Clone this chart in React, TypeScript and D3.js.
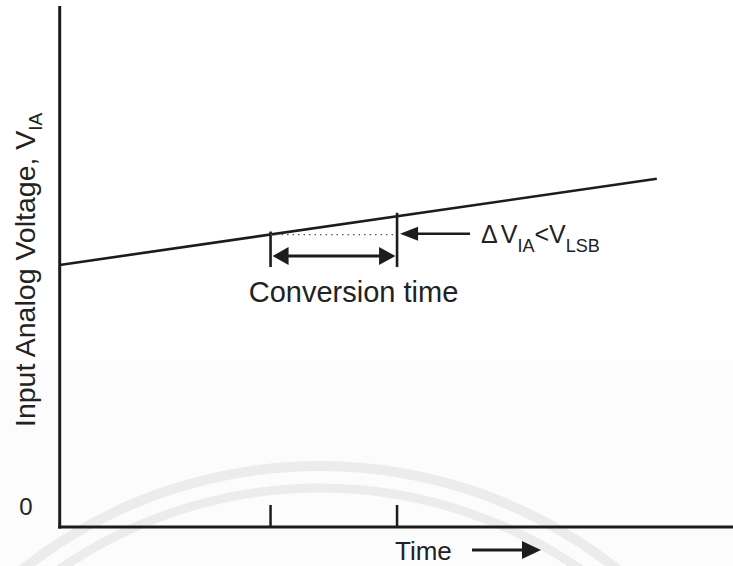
import React from "react";
import * as d3 from "d3";

// Input voltage ramp (time in arbitrary units, voltage in arbitrary units)
const rampTime = [0, 14.16];
const rampVoltage = [5.02, 6.67];

// Conversion window on the time axis
const conversionStart = 5;
const conversionEnd = 8;
const tickTimes = [conversionStart, conversionEnd];

// Marker bars at the start and end of the conversion
const markerTop = [5.66, 6.02];
const markerBottom = 4.98;

// Voltage of the ramp when the conversion begins (dotted reference level)
const startLevel = 5.6;
// Level of the double-headed conversion-time arrow
const spanLevel = 5.19;

const yAxisLabel = "Input Analog Voltage, V";
const yAxisSub = "IA";
const xAxisLabel = "Time";
const zeroLabel = "0";
const spanLabel = "Conversion time";

const W = 733;
const H = 566;
const INK = "#1c1c1c";
const FONT = "'Liberation Sans', Arial, Helvetica, sans-serif";

export default function App() {
  const x = d3.scaleLinear().domain([0, 16]).range([59.7, 734.4]);
  const y = d3.scaleLinear().domain([0, 10]).range([527, 5]);

  const ramp = d3
    .line<number>()
    .x((_, i) => x(rampTime[i]))
    .y((v) => y(v))(rampVoltage) as string;

  const x0 = x(0);
  const y0 = y(0);

  // seal arcs in the lower background
  const sealCx = 320;
  const sealCy = 946;
  const arc = (r: number) =>
    d3.arc()({
      innerRadius: r,
      outerRadius: r,
      startAngle: -Math.PI / 2.3,
      endAngle: Math.PI / 2.3,
    }) as string;

  const xs = x(conversionStart);
  const xe = x(conversionEnd);
  const ySpan = y(spanLevel);
  const yStart = y(startLevel);

  return (
    <svg
      width={W}
      height={H}
      viewBox={`0 0 ${W} ${H}`}
      style={{ position: "absolute", left: 0, top: 0, background: "#fff" }}
    >
      <rect x={0} y={360} width={W} height={H - 360} fill="#fcfcfc" />
      <g transform={`translate(${sealCx},${sealCy})`} fill="none" stroke="#ececec">
        <path d={arc(480)} strokeWidth={10} />
        <path d={arc(458)} strokeWidth={9} />
      </g>

      {/* axes */}
      <line x1={x0} y1={6} x2={x0} y2={y0 + 1.5} stroke={INK} strokeWidth={3} />
      <line x1={x0 - 1.5} y1={y0} x2={W} y2={y0} stroke={INK} strokeWidth={3} />
      {tickTimes.map((t) => (
        <line key={t} x1={x(t)} y1={y0} x2={x(t)} y2={y0 - 22} stroke={INK} strokeWidth={2.5} />
      ))}

      {/* ramp */}
      <path d={ramp} fill="none" stroke={INK} strokeWidth={2.6} />

      {/* conversion markers */}
      {tickTimes.map((t, i) => (
        <line key={"m" + t} x1={x(t)} y1={y(markerTop[i])} x2={x(t)} y2={y(markerBottom)} stroke={INK} strokeWidth={2.6} />
      ))}
      <line x1={xs} y1={yStart} x2={xe} y2={yStart} stroke="#555" strokeWidth={1.3} strokeDasharray="1.5 4" />

      {/* double-headed span arrow */}
      <path d={`M${xs + 2},${ySpan} L${xs + 18},${ySpan - 9} L${xs + 18},${ySpan + 9} z`} fill={INK} />
      <line x1={xs + 16} y1={ySpan} x2={xe - 16} y2={ySpan} stroke={INK} strokeWidth={3} />
      <path d={`M${xe - 1.5},${ySpan} L${xe - 18},${ySpan - 9} L${xe - 18},${ySpan + 9} z`} fill={INK} />

      {/* pointer to the voltage step */}
      <line x1={xe + 18} y1={yStart - 1} x2={470} y2={yStart - 1} stroke={INK} strokeWidth={2.6} />
      <path d={`M${xe + 3},${yStart - 1} L${xe + 21},${yStart - 8} L${xe + 21},${yStart + 6} z`} fill={INK} />

      <g fontFamily={FONT} fill="#222">
        <text x={481} y={243} fontSize={25}>
          Δ
          <tspan dx={3}>V</tspan>
          <tspan fontSize={18} dy={9}>{yAxisSub}</tspan>
          <tspan fontSize={25} dy={-9}>{"<V"}</tspan>
          <tspan fontSize={18} dy={9}>LSB</tspan>
        </text>

        <text x={(247 + 460) / 2} y={302} fontSize={29} textAnchor="middle">
          {spanLabel}
        </text>

        <text x={26} y={515} fontSize={24} textAnchor="middle">
          {zeroLabel}
        </text>

        <text transform="translate(35,427) rotate(-90)" fontSize={28.5}>
          {yAxisLabel}
          <tspan fontSize={19} dy={7}>{yAxisSub}</tspan>
        </text>

        <text x={395} y={560} fontSize={26}>
          {xAxisLabel}
        </text>
      </g>
      <line x1={472} y1={550} x2={525} y2={550} stroke={INK} strokeWidth={3} />
      <path d="M541,550 L522,541 L522,559 z" fill={INK} />
    </svg>
  );
}
